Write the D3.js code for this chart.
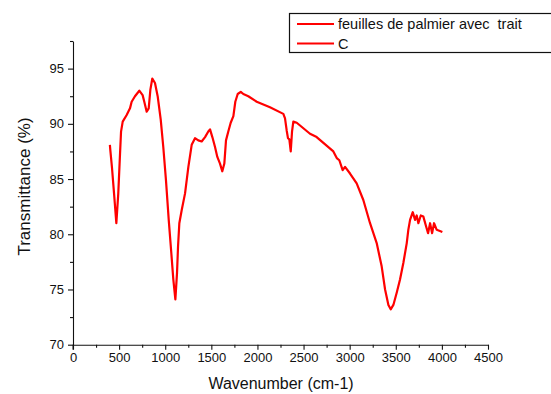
<!DOCTYPE html>
<html>
<head>
<meta charset="utf-8">
<script src="https://cdn.jsdelivr.net/npm/d3@7"></script>
<style>
  body { margin: 0; background: #fff; }
  svg { font-family: "Liberation Sans", Arial, sans-serif; }
</style>
</head>
<body>
<div id="chart-area"></div>
<script>
const wavenumber = [400, 405, 423, 445, 470, 491, 510, 521, 539, 582, 618, 636, 672, 719, 755, 773, 799, 821, 839, 860, 889, 918, 951, 979, 1008, 1038, 1066, 1088, 1110, 1128, 1139, 1153, 1179, 1215, 1251, 1287, 1323, 1359, 1395, 1432, 1467, 1486, 1511, 1540, 1565, 1594, 1619, 1641, 1659, 1684, 1710, 1739, 1760, 1786, 1819, 1847, 1901, 1992, 2136, 2281, 2299, 2317, 2331, 2346, 2361, 2375, 2389, 2426, 2498, 2570, 2642, 2823, 2860, 2888, 2924, 2950, 3004, 3076, 3148, 3221, 3293, 3347, 3384, 3420, 3445, 3474, 3510, 3546, 3582, 3619, 3636, 3655, 3684, 3709, 3727, 3745, 3771, 3799, 3829, 3850, 3872, 3894, 3915, 3944, 4005];
const transmittance = [88.1, 87.6, 86.0, 83.7, 81.0, 83.7, 87.3, 89.3, 90.2, 90.8, 91.4, 92.0, 92.5, 93.0, 92.6, 92.0, 91.1, 91.4, 93.1, 94.1, 93.7, 92.5, 90.4, 87.9, 84.9, 81.3, 78.3, 75.9, 74.1, 76.5, 78.9, 81.0, 82.2, 83.7, 86.1, 88.1, 88.7, 88.5, 88.4, 88.8, 89.3, 89.5, 88.8, 87.9, 87.0, 86.4, 85.7, 86.4, 88.5, 89.3, 90.1, 90.7, 92.0, 92.7, 92.9, 92.7, 92.5, 92.0, 91.5, 90.9, 90.5, 89.4, 88.7, 88.6, 87.5, 89.3, 90.2, 90.1, 89.6, 89.1, 88.8, 87.5, 86.9, 86.7, 85.8, 86.1, 85.5, 84.6, 83.1, 81.0, 79.2, 77.1, 75.0, 73.6, 73.2, 73.6, 74.7, 75.9, 77.4, 79.2, 80.4, 81.3, 82.0, 81.3, 81.7, 81.0, 81.7, 81.6, 80.7, 80.1, 81.0, 80.1, 81.0, 80.4, 80.2];
const xTicks = [0, 500, 1000, 1500, 2000, 2500, 3000, 3500, 4000, 4500];
const yTicks = [70, 75, 80, 85, 90, 95];
const legendLabels = ['feuilles de palmier avec  trait', 'C'];

const WIDTH = 551, HEIGHT = 394;
const MARGIN = { LEFT: 73, RIGHT: 63, TOP: 41, BOTTOM: 49 };

const svg = d3.select('#chart-area')
  .append('svg')
  .attr('width', WIDTH)
  .attr('height', HEIGHT)

const x = d3.scaleLinear()
  .domain([0, 4500])
  .range([MARGIN.LEFT, WIDTH - MARGIN.RIGHT])

const y = d3.scaleLinear()
  .domain([70, 97.5])
  .range([HEIGHT - MARGIN.BOTTOM - 0.3, MARGIN.TOP])

// minor ticks first, then major axes on top
svg.append('g')
  .attr('transform', `translate(0,${y(70)})`)
  .call(d3.axisBottom(x).tickValues(d3.range(250, 4500, 500)).tickSize(3).tickFormat(''))
  .call(g => g.select('.domain').remove())

svg.append('g')
  .attr('transform', `translate(${x(0)},0)`)
  .call(d3.axisLeft(y).tickValues([72.5, 77.5, 82.5, 87.5, 92.5, 97.5]).tickSize(3).tickFormat(''))
  .call(g => g.select('.domain').remove())

const xAxis = svg.append('g')
  .attr('transform', `translate(0,${y(70)})`)
  .call(d3.axisBottom(x).tickValues(xTicks).tickFormat(d3.format('d')).tickSize(5).tickSizeOuter(0).tickPadding(3))

const yAxis = svg.append('g')
  .attr('transform', `translate(${x(0)},0)`)
  .call(d3.axisLeft(y).tickValues(yTicks).tickFormat(d3.format('d')).tickSize(5).tickSizeOuter(0).tickPadding(4))

svg.selectAll('.tick text')
  .attr('font-size', '13px')
  .attr('font-family', '"Liberation Sans", Arial, sans-serif')
  .attr('fill', '#111')

svg.selectAll('.domain, .tick line')
  .attr('stroke', '#111')
  .attr('stroke-width', 1.1)

// y axis runs down through the x=0 tick
svg.append('line')
  .attr('x1', x(0)).attr('x2', x(0))
  .attr('y1', y(70)).attr('y2', y(70) + 5)
  .attr('stroke', '#111')

// labels
svg.append('text')
  .attr('x', (x(0) + x(4500)) / 2 + 0.5)
  .attr('y', 389)
  .attr('text-anchor', 'middle')
  .attr('font-size', '16px')
  .attr('fill', '#111')
  .text('Wavenumber (cm-1)')

svg.append('text')
  .attr('transform', 'rotate(-90)')
  .attr('x', -186.5)
  .attr('y', 30)
  .attr('text-anchor', 'middle')
  .attr('font-size', '17px')
  .attr('fill', '#111')
  .text('Transmittance (%)')

// spectrum
const points = wavenumber.map((w, i) => ({ w: w, t: transmittance[i] }))

svg.append('path')
  .datum(points)
  .attr('fill', 'none')
  .attr('stroke', '#ff0000')
  .attr('stroke-width', 2.2)
  .attr('stroke-linejoin', 'round')
  .attr('d', d3.line().x(d => x(d.w)).y(d => y(d.t)))

// legend
const legend = svg.append('g')

legend.append('rect')
  .attr('x', 289.5)
  .attr('y', 13.5)
  .attr('width', 270)
  .attr('height', 39)
  .attr('fill', '#fff')
  .attr('stroke', '#111')
  .attr('stroke-width', 1.2)

legendLabels.forEach((label, i) => {
  const ly = 24 + i * 19.5
  legend.append('line')
    .attr('x1', 297).attr('x2', 334)
    .attr('y1', ly).attr('y2', ly)
    .attr('stroke', '#ff0000')
    .attr('stroke-width', 2)
  legend.append('text')
    .attr('x', 338)
    .attr('y', ly + 5)
    .attr('font-size', '14.5px')
    .attr('fill', '#111')
    .style('white-space', 'pre')
    .text(label)
})
</script>
</body>
</html>
